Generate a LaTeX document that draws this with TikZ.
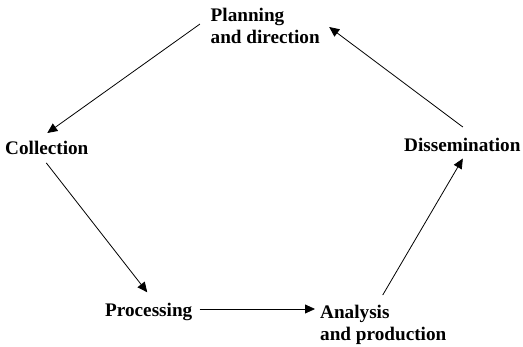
\documentclass[tikz,border=0pt]{standalone}
\usepackage{fontspec}
\setmainfont{Liberation Serif}
\usetikzlibrary{arrows.meta}
\tikzset{
  stage/.style={anchor=north west,inner sep=0pt,align=left,
    font=\fontsize{19.2}{22}\selectfont\bfseries},
  arr/.style={line width=0.8pt,-{Triangle[length=10pt,width=9pt]}}
}
\begin{document}
\begin{tikzpicture}[x=1pt,y=-1pt]
\useasboundingbox (0,0) rectangle (523,346);
\node[stage] (plan) at(210.5,8){Planning\\and direction};
\node[stage] (coll) at(5,140.7){Collection};
\node[stage] (proc) at(105,303.3){Processing};
\node[stage] (anal) at(320,305){Analysis\\and production};
\node[stage] (diss) at(404,138.3){Dissemination};
\draw[arr] ([shift={(-10.5,16)}]plan.north west) -- ([shift={(0.5,-7.7)}]coll.north);
\draw[arr] ([shift={(-0.5,8.3)}]coll.south) -- ([shift={(-1.5,-11)}]proc.north);
\draw[arr] ([shift={(7,5.7)}]proc.north east) -- ([shift={(-5,4)}]anal.north west);
\draw[arr] ([shift={(-0.5,-10)}]anal.north) -- ([shift={(0.5,6.3)}]diss.south);
\draw[arr] ([shift={(0.5,-11.3)}]diss.north) -- ([shift={(9.3,19)}]plan.north east);
\end{tikzpicture}
\end{document}
